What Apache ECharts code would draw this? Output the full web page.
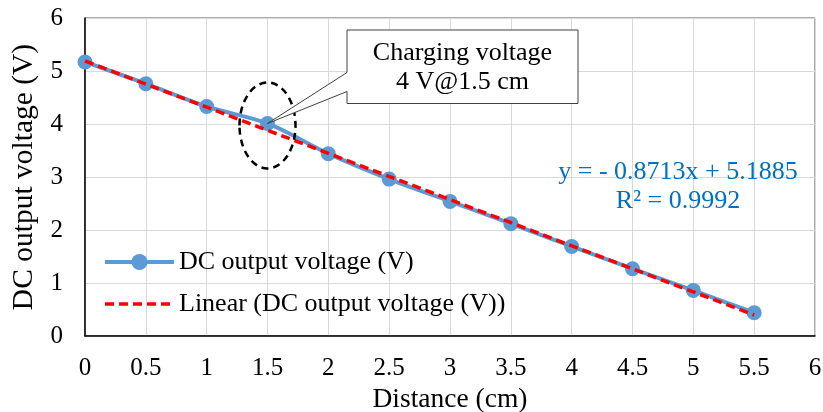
<!DOCTYPE html>
<html>
<head>
<meta charset="utf-8">
<script src="https://cdn.jsdelivr.net/npm/echarts@6/dist/echarts.min.js"></script>
<style>
  html, body { margin: 0; padding: 0; background: #fff; }
  #main { width: 823px; height: 412px; }
</style>
</head>
<body>
<div id="main"></div>
<script>
// measured points
const distance = [0, 0.5, 1, 1.5, 2, 2.5, 3, 3.5, 4, 4.5, 5, 5.5];
const voltage = [5.17, 4.76, 4.33, 4.01, 3.44, 2.96, 2.54, 2.12, 1.69, 1.27, 0.86, 0.44];
// linear trend end points (y = -0.8713x + 5.1885)
const trendX = [0, 5.5];
const trendY = [5.1885, 0.3963];
const calloutPoint = [1.5, 4.01];

const font = "'Liberation Serif', 'Times New Roman', serif";

const myChart = echarts.init(document.getElementById("main"));

const option = {
  animation: false,
  grid: {
    left: 85,
    right: 8,
    top: 18,
    bottom: 76,
    outerBoundsMode: "none",
    show: true,
    borderColor: "#595959",
    borderWidth: 1,
  },
  legend: {
    orient: "vertical",
    left: 98,
    top: 244,
    itemWidth: 69,
    itemHeight: 20,
    itemGap: 16,
    textStyle: { fontFamily: font, fontSize: 26, color: "#000" },
    data: [
      {
        name: "DC output voltage (V)",
        lineStyle: { width: 4 },
      },
      {
        name: "Linear (DC output voltage (V))",
        itemStyle: { opacity: 0 },
        lineStyle: { width: 3.5 },
      },
    ],
  },
  xAxis: {
    type: "value",
    min: 0,
    max: 6,
    interval: 0.5,
    name: "Distance (cm)",
    nameLocation: "middle",
    nameGap: 48,
    nameTextStyle: { fontFamily: font, fontSize: 27.5, color: "#000" },
    axisLine: { lineStyle: { color: "#000", width: 1.5 } },
    axisTick: { show: false },
    axisLabel: { fontFamily: font, fontSize: 25, color: "#000", margin: 20 },
    splitLine: { lineStyle: { color: "#d9d9d9", width: 1 } },
  },
  yAxis: {
    type: "value",
    min: 0,
    max: 6,
    interval: 1,
    name: "DC output voltage (V)",
    nameLocation: "middle",
    nameGap: 46,
    nameTextStyle: { fontFamily: font, fontSize: 29.5, color: "#000" },
    axisLine: { show: true, lineStyle: { color: "#000", width: 1.5 } },
    axisTick: { show: false },
    axisLabel: { fontFamily: font, fontSize: 25, color: "#000", margin: 22 },
    splitLine: { lineStyle: { color: "#d9d9d9", width: 1 } },
  },
  series: [
    {
      name: "DC output voltage (V)",
      type: "line",
      smooth: 0.3,
      symbol: "circle",
      symbolSize: 15,
      itemStyle: { color: "#5B9BD5" },
      lineStyle: { color: "#5B9BD5", width: 4 },
      data: distance.map((x, i) => [x, voltage[i]]),
      z: 2,
    },
    {
      name: "Linear (DC output voltage (V))",
      type: "line",
      symbol: "none",
      itemStyle: { color: "#FF0000" },
      lineStyle: { color: "#FF0000", width: 3.5, type: [9, 5] },
      data: trendX.map((x, i) => [x, trendY[i]]),
      z: 3,
    },
  ],
};

myChart.setOption(option);

function drawNotes() {
  const tip = myChart.convertToPixel({ gridIndex: 0 }, calloutPoint);
  const box = { x1: 347, y1: 30, x2: 578, y2: 103.5, g1: 72.5, g2: 91.5 };
  const cx = (box.x1 + box.x2) / 2;
  myChart.setOption({
    graphic: [
      {
        type: "ellipse",
        shape: { cx: tip[0], cy: tip[1] + 2, rx: 28, ry: 43 },
        style: { fill: "none", stroke: "#000", lineWidth: 2.5, lineDash: [7, 5] },
        z: 10,
      },
      {
        type: "polygon",
        shape: {
          points: [
            [box.x1, box.y1],
            [box.x2, box.y1],
            [box.x2, box.y2],
            [box.x1, box.y2],
            [box.x1, box.g2],
            [tip[0], tip[1]],
            [box.x1, box.g1],
          ],
        },
        style: { fill: "#fff", stroke: "#404040", lineWidth: 1 },
        z: 11,
      },
      {
        type: "text",
        x: cx,
        y: 53,
        style: {
          text: "Charging voltage",
          font: "26px " + font,
          fill: "#000",
          align: "center",
          verticalAlign: "middle",
        },
        z: 12,
      },
      {
        type: "text",
        x: cx,
        y: 82,
        style: {
          text: "4 V@1.5 cm",
          font: "26px " + font,
          fill: "#000",
          align: "center",
          verticalAlign: "middle",
        },
        z: 12,
      },
      {
        type: "text",
        x: 678,
        y: 172,
        style: {
          text: "y = - 0.8713x + 5.1885",
          font: "26px " + font,
          fill: "#0070C0",
          align: "center",
          verticalAlign: "middle",
        },
        z: 12,
      },
      {
        type: "text",
        x: 678,
        y: 201,
        style: {
          text: "R² = 0.9992",
          font: "26px " + font,
          fill: "#0070C0",
          align: "center",
          verticalAlign: "middle",
        },
        z: 12,
      },
    ],
  });
}

drawNotes();
</script>
</body>
</html>
